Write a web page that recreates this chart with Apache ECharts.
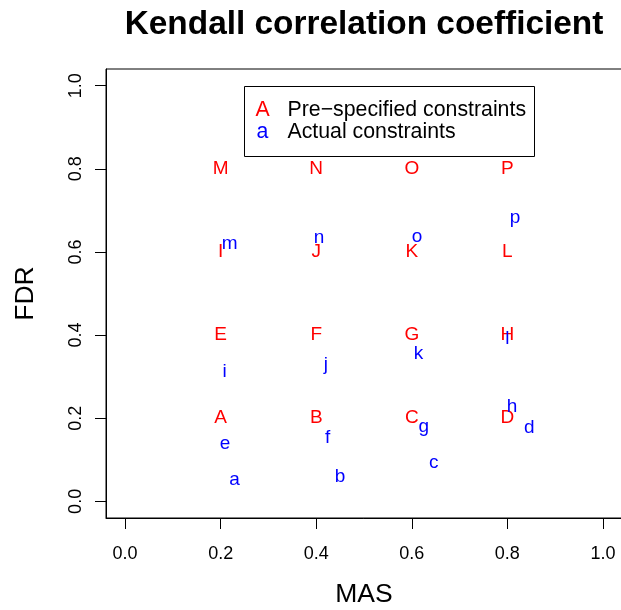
<!DOCTYPE html>
<html>
<head>
<meta charset="utf-8">
<script src="https://cdn.jsdelivr.net/npm/echarts@6/dist/echarts.min.js"></script>
<style>html,body{margin:0;padding:0;background:#fff;}#c{width:621px;height:610px;}</style>
</head>
<body>
<div id="c"></div>
<script>
// Pre-specified constraints (red, upper case)
const preLabels = ['A','B','C','D','E','F','G','H','I','J','K','L','M','N','O','P'];
const preMAS = [0.2,0.4,0.6,0.8, 0.2,0.4,0.6,0.8, 0.2,0.4,0.6,0.8, 0.2,0.4,0.6,0.8];
const preFDR = [0.2,0.2,0.2,0.2, 0.4,0.4,0.4,0.4, 0.6,0.6,0.6,0.6, 0.8,0.8,0.8,0.8];
// Actual constraints (blue, lower case)
const actLabels = ['a','b','c','d','e','f','g','h','i','j','k','l','m','n','o','p'];
const actMAS = [0.229,0.450,0.646,0.846, 0.209,0.424,0.625,0.810, 0.208,0.420,0.614,0.800, 0.219,0.406,0.611,0.816];
const actFDR = [0.052,0.058,0.093,0.178, 0.139,0.154,0.179,0.228, 0.311,0.329,0.354,0.391, 0.620,0.633,0.637,0.683];
// Axis ticks
const xTicks = [0, 0.2, 0.4, 0.6, 0.8, 1.0];
const yTicks = [0, 0.2, 0.4, 0.6, 0.8, 1.0];
const legendEntries = [['A','Pre\u2212specified constraints'],['a','Actual constraints']];

const FONT = 'Liberation Sans, Arial, Helvetica, sans-serif';
const RED = '#FF0000', BLUE = '#0000FF';

const preData = preLabels.map((n,i)=>[preMAS[i], preFDR[i], n]);
const actData = actLabels.map((n,i)=>[actMAS[i], actFDR[i], n]);

function letterSeries(name, data, color){
  return {
    name, type:'scatter', data, symbol:'circle', symbolSize:1,
    itemStyle:{color:'rgba(0,0,0,0)', opacity:1},
    label:{show:true, position:'inside', formatter:p=>p.data[2], color, opacity:1, fontSize:19, fontFamily:FONT},
    emphasis:{disabled:true}, silent:true
  };
}

const chart = echarts.init(document.getElementById('c'), null, {renderer:'canvas'});
chart.setOption({
  animation:false,
  backgroundColor:'#fff',
  title:{text:'Kendall correlation coefficient', left:364, top:8, textAlign:'center', padding:0,
    textStyle:{fontSize:33.4, fontWeight:'bold', fontFamily:FONT, color:'#000'}},
  grid:{left:106, top:69, width:516, height:449, show:true, borderColor:'#000', borderWidth:1, backgroundColor:'transparent',
    containLabel:false, outerBoundsMode:'none'},
  xAxis:{type:'value', min:-0.04, max:1.04,
    name:'MAS', nameLocation:'middle', nameGap:63.5,
    nameTextStyle:{fontSize:26.5, fontFamily:FONT, color:'#000'},
    axisLine:{show:true, onZero:false, lineStyle:{color:'#000', width:1}},
    axisTick:{show:true, length:11, customValues:xTicks, lineStyle:{color:'#000'}},
    axisLabel:{show:true, customValues:xTicks, margin:27.5, fontSize:18, fontFamily:FONT, color:'#000', formatter:v=>v.toFixed(1)},
    splitLine:{show:false}},
  yAxis:{type:'value', min:-0.04, max:1.04,
    name:'FDR', nameLocation:'middle', nameGap:67, nameRotate:90,
    nameTextStyle:{fontSize:26.5, fontFamily:FONT, color:'#000'},
    axisLine:{show:true, onZero:false, lineStyle:{color:'#000', width:1}},
    axisTick:{show:true, length:11, customValues:yTicks, lineStyle:{color:'#000'}},
    axisLabel:{show:true, customValues:yTicks, rotate:90, margin:21, fontSize:18, fontFamily:FONT, color:'#000', formatter:v=>v.toFixed(1)},
    splitLine:{show:false}},
  series:[letterSeries('Pre-specified constraints', preData, RED), letterSeries('Actual constraints', actData, BLUE)],
  graphic:[
    {type:'rect', shape:{x:244.5, y:86.5, width:290, height:70}, style:{fill:'none', stroke:'#000', lineWidth:1}, silent:true},
    {type:'text', x:262.5, y:110.5, style:{text:legendEntries[0][0], fill:RED, fontSize:21.3, fontFamily:FONT, align:'center', verticalAlign:'middle'}},
    {type:'text', x:262.5, y:132.5, style:{text:legendEntries[1][0], fill:BLUE, fontSize:21.3, fontFamily:FONT, align:'center', verticalAlign:'middle'}},
    {type:'text', x:287.5, y:110.5, style:{text:legendEntries[0][1], fill:'#000', fontSize:21.3, fontFamily:FONT, align:'left', verticalAlign:'middle'}},
    {type:'text', x:287.5, y:132.5, style:{text:legendEntries[1][1], fill:'#000', fontSize:21.3, fontFamily:FONT, align:'left', verticalAlign:'middle'}}
  ]
});
</script>
</body>
</html>
